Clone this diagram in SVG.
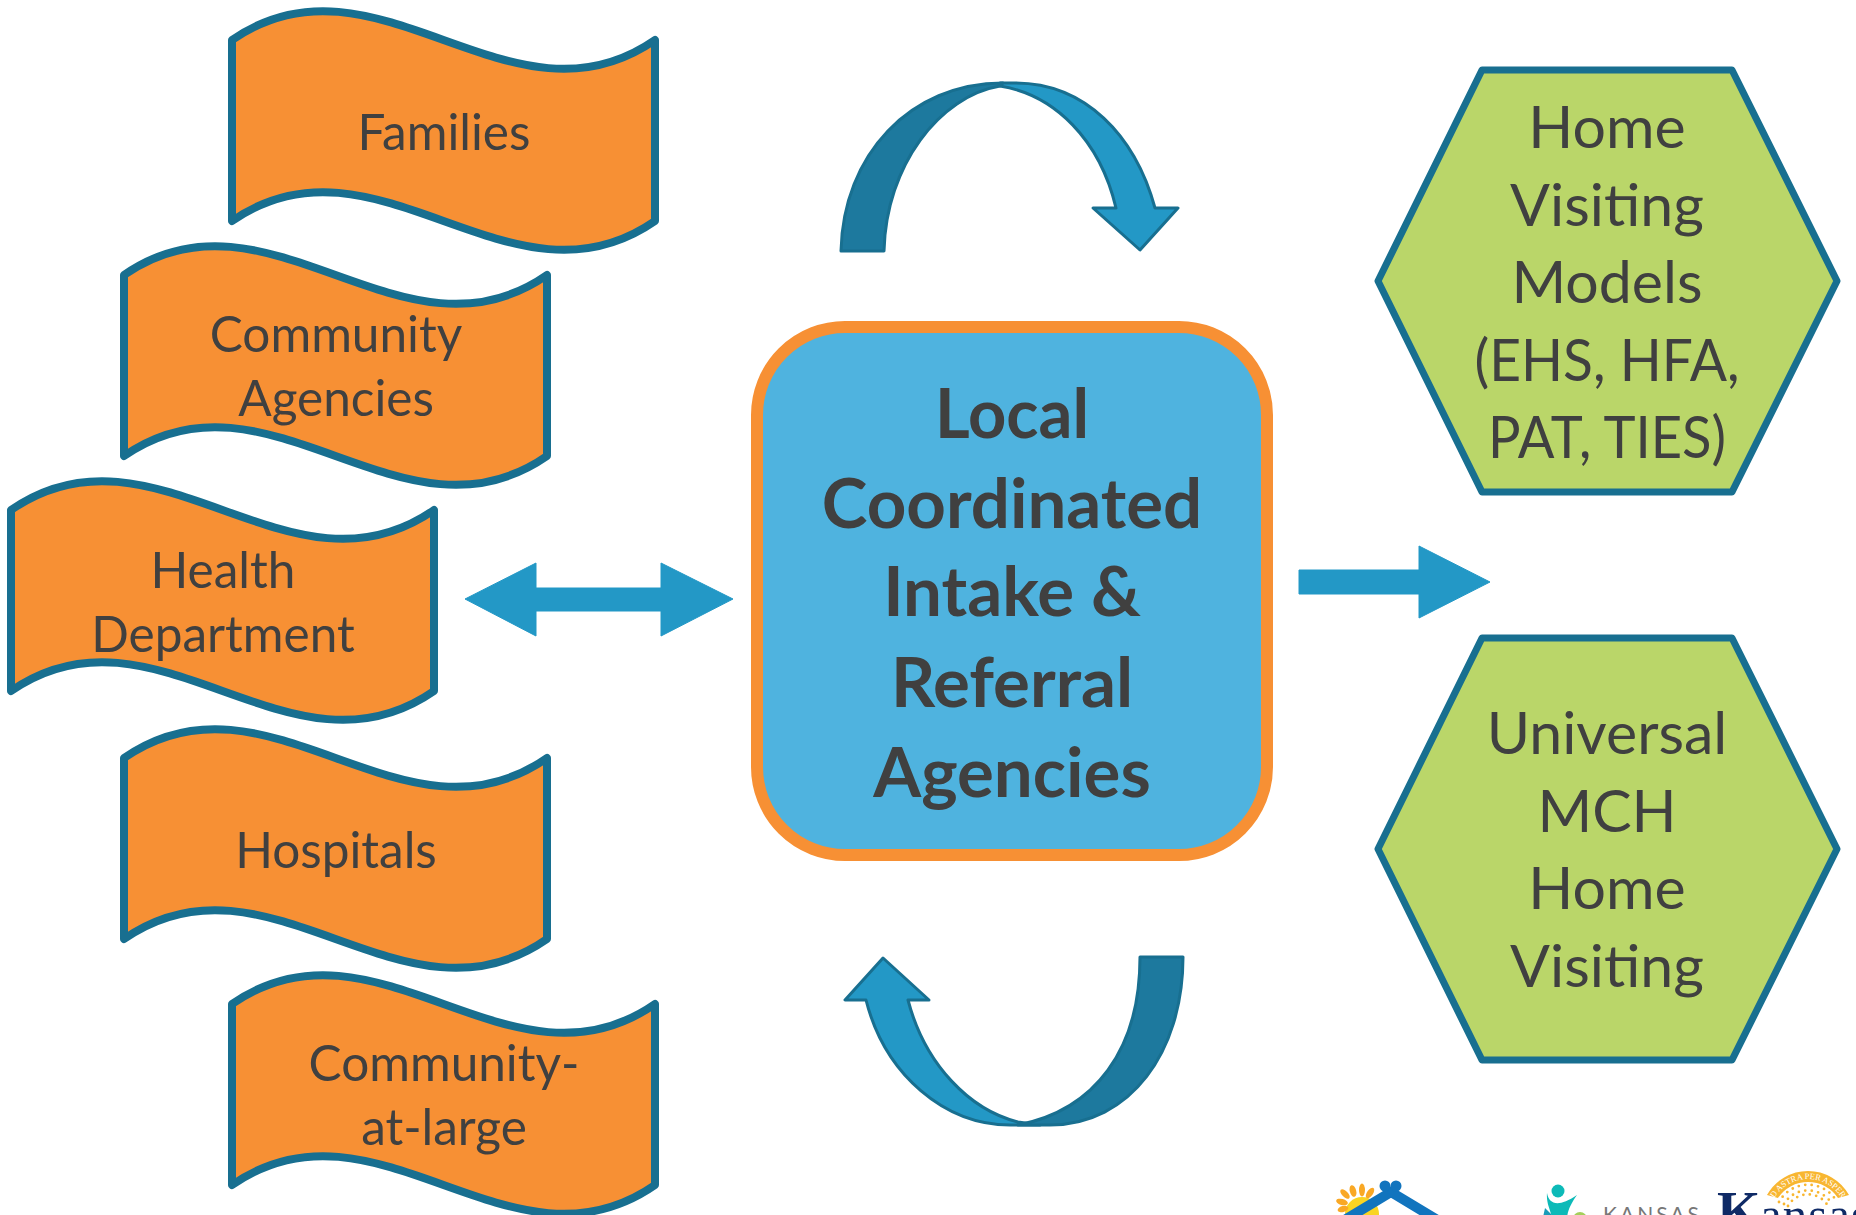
<svg xmlns="http://www.w3.org/2000/svg" width="1856" height="1215" viewBox="0 0 1856 1215">
<style>
text{font-family:Lato,"Open Sans",sans-serif;fill:#404040;text-anchor:middle}
.w{fill:#F79034;stroke:#186F90;stroke-width:8;stroke-linejoin:round}
.t{font-size:49.5px}
.h{fill:#BAD669;stroke:#186F90;stroke-width:7;stroke-linejoin:round}
.ht{font-size:59px}
.m{font-size:69px;font-weight:700}
.a{fill:#2398C6;stroke:#2398C6;stroke-width:1}
.c{fill:#2398C6;stroke:#186F90;stroke-width:3;stroke-linejoin:round}
.d{fill:#1D799E;stroke:#186F90;stroke-width:3;stroke-linejoin:round}
.l{text-anchor:start}
.k{font-family:"Liberation Serif",serif;fill:#0F2A66}
.s{fill:none;stroke:#F8B631;stroke-width:2.8;stroke-linecap:round;stroke-dasharray:0 6.5}
.r{fill:#F9A825}
</style>
<defs>
<path id="wave" d="M0,0C144,-100 279,100 423,0V181C279,281 144,81 0,181Z"/>
<path id="hex" d="M0,211L104,0H354L459,211L354,422H104Z"/>
<path id="arcText" d="M1769,1218A39,39 0 0 1 1847,1218"/>
</defs>
<g id="connectors">
<path class="a" d="M465,599L536,563V588H661V563L733,599L661,636V611H536V636Z"/>
<path class="a" d="M1299,570H1419V546L1490,582L1419,618V594H1299Z"/>
<path class="c" d="M1000,86C1055,95 1100,140 1116,208H1093L1140,250L1178,208H1155C1135,135 1085,83 1015,83H1000Z"/>
<path class="d" d="M841,251C843,155 910,83 1003,83L1000,86C940,96 886,165 884,251Z"/>
<path class="c" d="M1018,1122C970,1110 925,1065 908,1000H929L883,958L845,1000H866C885,1075 945,1125 1010,1125H1040Z"/>
<path class="d" d="M1140,957H1183C1183,1052 1130,1125 1050,1125H1018C1095,1110 1140,1050 1140,957Z"/>
</g>
<g id="families"><use href="#wave" class="w" x="232" y="40"/><text class="t" x="444" y="150">Families</text></g>
<g id="community-agencies"><use href="#wave" class="w" x="124" y="275"/><text class="t" x="336" y="352">Community</text><text class="t" x="336" y="416">Agencies</text></g>
<g id="health-department"><use href="#wave" class="w" x="11" y="510"/><text class="t" x="223" y="588">Health</text><text class="t" x="223" y="652">Department</text></g>
<g id="hospitals"><use href="#wave" class="w" x="124" y="758"/><text class="t" x="336" y="868">Hospitals</text></g>
<g id="community-at-large"><use href="#wave" class="w" x="232" y="1004"/><text class="t" x="444" y="1081">Community-</text><text class="t" x="444" y="1145">at-large</text></g>
<g id="coordinated-intake"><rect x="757" y="327" width="510" height="528" rx="88" fill="#4FB3DF" stroke="#F79034" stroke-width="12"/>
<text class="m" x="1012" y="438" textLength="154" lengthAdjust="spacingAndGlyphs">Local</text><text class="m" x="1012" y="528">Coordinated</text><text class="m" x="1012" y="616">Intake &amp;</text><text class="m" x="1012" y="707">Referral</text><text class="m" x="1012" y="797">Agencies</text></g>
<g id="home-visiting-models"><use href="#hex" class="h" x="1378" y="70"/><text class="ht" x="1607" y="148">Home</text><text class="ht" x="1607" y="226">Visiting</text><text class="ht" x="1607" y="303">Models</text><text class="ht" x="1607" y="381" textLength="265" lengthAdjust="spacingAndGlyphs">(EHS, HFA,</text><text class="ht" x="1607" y="458" textLength="238" lengthAdjust="spacingAndGlyphs">PAT, TIES)</text></g>
<g id="universal-mch"><use href="#hex" class="h" x="1378" y="638"/><text class="ht" x="1607" y="754">Universal</text><text class="ht" x="1607" y="832">MCH</text><text class="ht" x="1607" y="909">Home</text><text class="ht" x="1607" y="987">Visiting</text></g>
<g id="logos">
<circle cx="1362" cy="1214" r="17" fill="#F9D423"/>
<ellipse class="r" cx="1353" cy="1191" rx="3.2" ry="6" transform="rotate(-15 1353 1191)"/><ellipse class="r" cx="1362" cy="1190" rx="3" ry="6.5"/><ellipse class="r" cx="1370" cy="1193" rx="3" ry="6" transform="rotate(35 1370 1193)"/><ellipse class="r" cx="1345" cy="1194" rx="3" ry="6" transform="rotate(-45 1345 1194)"/><ellipse class="r" cx="1342" cy="1202" rx="3" ry="6" transform="rotate(-75 1342 1202)"/><ellipse class="r" cx="1343" cy="1209" rx="3" ry="5.5" transform="rotate(-105 1343 1209)"/>
<path d="M1333,1227L1391,1192L1449,1227" fill="none" stroke="#1174BE" stroke-width="10"/>
<circle cx="1385" cy="1186" r="5.5" fill="#1174BE"/><circle cx="1396" cy="1186" r="5.5" fill="#1174BE"/>
<circle cx="1480" cy="1222" r="7" fill="#1B9CC8"/>
<circle cx="1558" cy="1191" r="6.5" fill="#0DBAB8"/>
<path d="M1542,1222L1545,1208L1553,1216V1222Z" fill="#1B9CB8"/>
<path d="M1547,1193C1549,1204 1558,1208 1577,1195C1570,1205 1567,1212 1567,1220H1552C1552,1212 1546,1205 1547,1193Z" fill="#0DBAB8"/>
<circle cx="1580" cy="1219" r="7" fill="#A4CF5B"/>
<text class="l" x="1603" y="1222" style="font-size:21px;letter-spacing:3px;fill:#777">KANSAS</text>
<text class="l k" x="1717" y="1231" style="font-size:56px;font-weight:700">K</text>
<text class="l k" x="1760" y="1231" style="font-size:49px;letter-spacing:1px">ansas</text>
<path d="M1767,1195A47,47 0 0 1 1849,1195L1838,1198A36,36 0 0 0 1778,1198Z" fill="#F8B631"/>
<text style="font-family:'Liberation Serif',serif;font-size:8.5px;fill:#fff"><textPath href="#arcText" startOffset="50%">AD ASTRA PER ASPERA</textPath></text>
<path class="s" d="M1779,1202A33,33 0 0 1 1837,1202"/>
<path class="s" d="M1784,1204A28,28 0 0 1 1832,1204"/>
<path class="s" d="M1788,1206A23,23 0 0 1 1828,1206"/>
</g>
</svg>
